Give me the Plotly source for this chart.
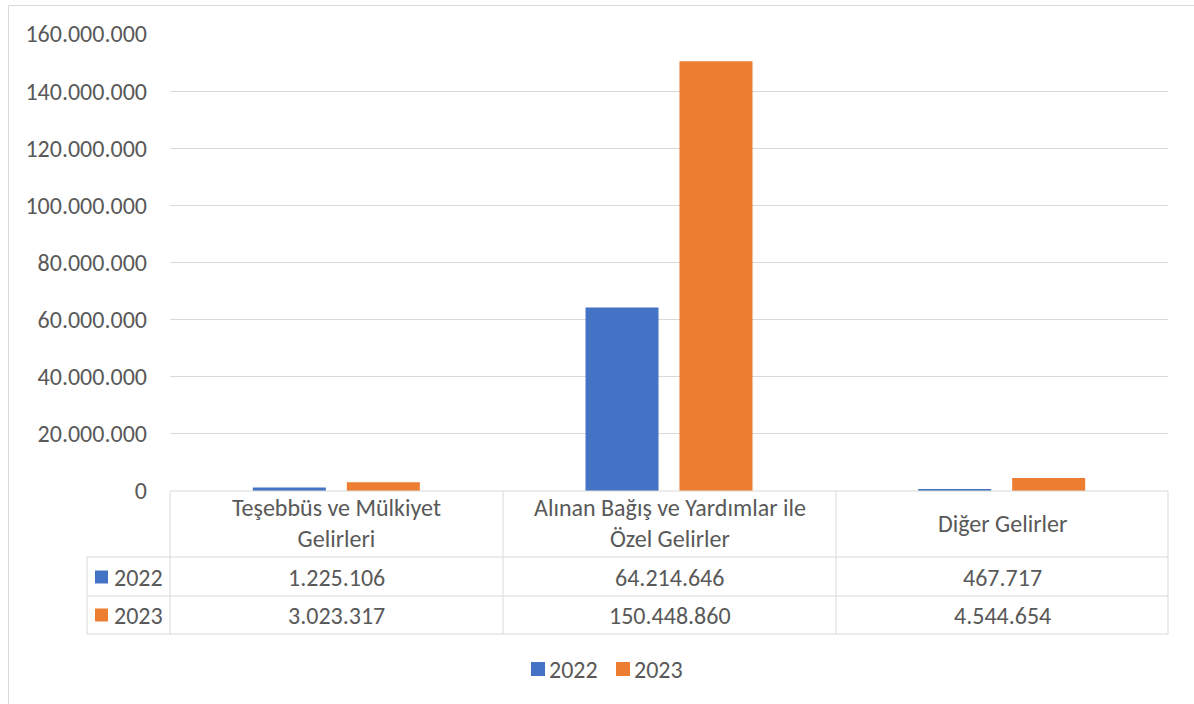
import plotly.graph_objects as go

categories = ["Teşebbüs ve Mülkiyet<br>Gelirleri", "Alınan Bağış ve Yardımlar ile<br>Özel Gelirler", "Diğer Gelirler"]
series_names = ["2022", "2023"]
values_2022 = [1225106, 64214646, 467717]
values_2023 = [3023317, 150448860, 4544654]
colors = ["#4472C4", "#ED7D31"]
y_ticks = [0, 20000000, 40000000, 60000000, 80000000, 100000000, 120000000, 140000000, 160000000]

W, H = 1194, 704
L, R, T, B = 170, 1168, 34, 491  # page coords of plot area
FONT = "Carlito, Calibri, Lato, sans-serif"
FS = 24
TXT = "#595959"
GRID = "#D9D9D9"

def px(x):
    return (x - L) / (R - L)

def py(y):
    return (B - y) / (B - T)

def fmt(v):
    return f"{v:,}".replace(",", ".")

fig = go.Figure()
for name, vals, col in zip(series_names, [values_2022, values_2023], colors):
    fig.add_trace(go.Bar(name=name, x=categories, y=vals, marker_color=col,
                         marker_line_width=0, showlegend=False))

shapes = []
annotations = []
line = dict(color=GRID, width=1)
# table horizontal lines
for yy, x0 in [(491, 170), (557, 87), (596, 87), (634, 87)]:
    shapes.append(dict(type="line", xref="paper", yref="paper", x0=px(x0), x1=px(1168),
                       y0=py(yy), y1=py(yy), line=line))
# vertical lines
for xx in [170, 503, 836, 1168]:
    shapes.append(dict(type="line", xref="paper", yref="paper", x0=px(xx), x1=px(xx),
                       y0=py(491), y1=py(634), line=line))
shapes.append(dict(type="line", xref="paper", yref="paper", x0=px(87), x1=px(87),
                   y0=py(557), y1=py(634), line=line))
# outer chart border
shapes.append(dict(type="rect", xref="paper", yref="paper", x0=px(8.5), x1=px(1210),
                   y0=py(5.5), y1=py(720), line=line))

tfont = dict(family=FONT, size=FS, color=TXT)
centers = [336.5, 669.5, 1002]
for c, cat, v1, v2 in zip(centers, categories, values_2022, values_2023):
    annotations.append(dict(x=px(c), y=py(523), xref="paper", yref="paper", text=cat,
                            showarrow=False, font=tfont,
                            xanchor="center", yanchor="middle", align="center"))
    annotations.append(dict(x=px(c), y=py(577), xref="paper", yref="paper", text=fmt(v1),
                            showarrow=False, font=tfont, xanchor="center", yanchor="middle"))
    annotations.append(dict(x=px(c), y=py(615), xref="paper", yref="paper", text=fmt(v2),
                            showarrow=False, font=tfont, xanchor="center", yanchor="middle"))

# row keys in the data table
for yy, name, col in [(577, series_names[0], colors[0]), (615, series_names[1], colors[1])]:
    shapes.append(dict(type="rect", xref="paper", yref="paper", x0=px(95), x1=px(108),
                       y0=py(yy - 6.5), y1=py(yy + 6.5), fillcolor=col, line=dict(width=0)))
    annotations.append(dict(x=px(112), y=py(yy), xref="paper", yref="paper", text=name,
                            showarrow=False, font=tfont, xanchor="left", yanchor="middle"))

# bottom legend
for x0, name, col in [(531, series_names[0], colors[0]), (616, series_names[1], colors[1])]:
    shapes.append(dict(type="rect", xref="paper", yref="paper", x0=px(x0), x1=px(x0 + 14),
                       y0=py(669 - 7), y1=py(669 + 7), fillcolor=col, line=dict(width=0)))
    annotations.append(dict(x=px(x0 + 16), y=py(669), xref="paper", yref="paper", text=name,
                            showarrow=False, font=tfont, xanchor="left", yanchor="middle"))

fig.update_layout(
    width=W, height=H,
    margin=dict(l=L, r=W - R, t=T, b=H - B, pad=0),
    paper_bgcolor="white", plot_bgcolor="white",
    separators=",.",
    barmode="group", bargap=0.435, bargroupgap=0.223,
    font=tfont,
    shapes=shapes, annotations=annotations,
    showlegend=False,
)
fig.update_xaxes(showticklabels=False, showgrid=False, showline=False, zeroline=False,
                 automargin=False)
fig.update_yaxes(range=[0, 160000000], tickvals=y_ticks, tickformat=",d",
                 showgrid=True, gridcolor=GRID, gridwidth=1, zeroline=False,
                 showline=False, ticks="", ticklabelstandoff=22, tickfont=tfont,
                 automargin=False)

fig.write_html("out.html", config={"displayModeBar": False},
               post_script="document.body.style.margin='0';document.body.style.overflow='hidden';")
